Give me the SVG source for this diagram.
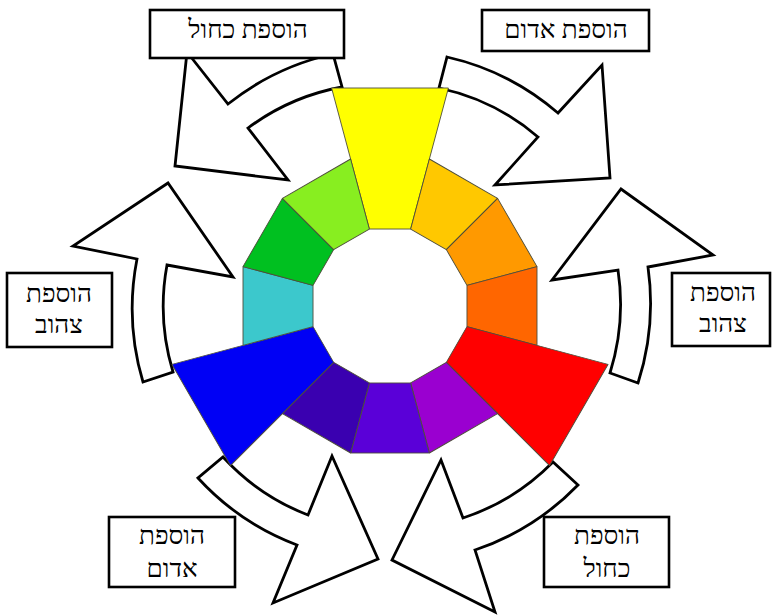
<svg xmlns="http://www.w3.org/2000/svg" width="773" height="615" viewBox="0 0 773 615">
<style>
.arrow{fill:#fff;stroke:#000;stroke-width:2.8;stroke-linejoin:miter}
.box{fill:#fff;stroke:#000;stroke-width:2.6}
.lbl{font-family:"Liberation Serif","Times New Roman","DejaVu Serif",serif;font-size:26px;fill:#000;text-anchor:middle}
.seg{stroke:#4d4d3a;stroke-width:0.9;stroke-linejoin:round}
</style>
<defs>
<polygon id="s" points="76.98,-20.63 76.98,20.63 147,39.39 147,-39.39"/>
<polygon id="b" points="76.98,-20.63 76.98,20.63 218,58.41 218,-58.41"/>
</defs>
<rect width="773" height="615" fill="#fff"/>
<g id="connectors">
<path id="arrow-top-left" class="arrow" d="M333,54 A258,258 0 0 0 228,104 L187,52 L175,166 L288,180 L248,128 A226,226 0 0 1 342,87 Z"/>
<path id="arrow-top-right" class="arrow" d="M447,57 A256,256 0 0 1 558,113 L602,65 L610,178 L495,185 L538,137 A224,224 0 0 0 439,88 Z"/>
<path id="arrow-right" class="arrow" d="M638,383 A260,260 0 0 0 648,267 L713,255 L621,189 L552,280 L618,270 A230,230 0 0 1 610,373 Z"/>
<path id="arrow-bottom-right" class="arrow" d="M578,485 A259,259 0 0 1 475,550 L495,612 L392,560 L441,460 L463,518 A225,225 0 0 0 553,462 Z"/>
<path id="arrow-bottom-left" class="arrow" d="M198,478 A257,257 0 0 0 297,545 L273,603 L378,559 L332,456 L308,515 A225,225 0 0 1 223,457 Z"/>
<path id="arrow-left" class="arrow" d="M143,382 A258,258 0 0 1 137,259 L73,246 L168,183 L233,277 L167,265 A227,227 0 0 0 173,372 Z"/>
</g>
<g id="wheel" transform="translate(390,306)">
<use href="#b" class="seg" fill="#ffff00" transform="rotate(-90)"/>
<use href="#s" class="seg" fill="#ffc800" transform="rotate(-60)"/>
<use href="#s" class="seg" fill="#ff9900" transform="rotate(-30)"/>
<use href="#s" class="seg" fill="#ff6600" transform="rotate(0)"/>
<use href="#b" class="seg" fill="#ff0000" transform="rotate(30)"/>
<use href="#s" class="seg" fill="#9a00d0" transform="rotate(60)"/>
<use href="#s" class="seg" fill="#5a00d8" transform="rotate(90)"/>
<use href="#s" class="seg" fill="#3a00b0" transform="rotate(120)"/>
<use href="#b" class="seg" fill="#0000f5" transform="rotate(150)"/>
<use href="#s" class="seg" fill="#3cc8cc" transform="rotate(180)"/>
<use href="#s" class="seg" fill="#00c020" transform="rotate(210)"/>
<use href="#s" class="seg" fill="#88ee20" transform="rotate(240)"/>
</g>
<g id="label-top-left">
<rect class="box" x="150" y="10" width="194" height="48"/>
<text class="lbl" x="248" y="38">הוספת כחול</text>
</g>
<g id="label-top-right">
<rect class="box" x="482" y="10" width="167" height="41"/>
<text class="lbl" x="566" y="38">הוספת אדום</text>
</g>
<g id="label-left">
<rect class="box" x="7" y="273" width="105" height="74"/>
<text class="lbl" x="59" y="302">הוספת</text>
<text class="lbl" x="59" y="333">צהוב</text>
</g>
<g id="label-right">
<rect class="box" x="672" y="273" width="98" height="73"/>
<text class="lbl" x="723" y="301">הוספת</text>
<text class="lbl" x="723" y="332">צהוב</text>
</g>
<g id="label-bottom-left">
<rect class="box" x="109" y="517" width="126" height="70"/>
<text class="lbl" x="172" y="544">הוספת</text>
<text class="lbl" x="172" y="577">אדום</text>
</g>
<g id="label-bottom-right">
<rect class="box" x="544" y="517" width="125" height="70"/>
<text class="lbl" x="607" y="544">הוספת</text>
<text class="lbl" x="607" y="577">כחול</text>
</g>
</svg>
